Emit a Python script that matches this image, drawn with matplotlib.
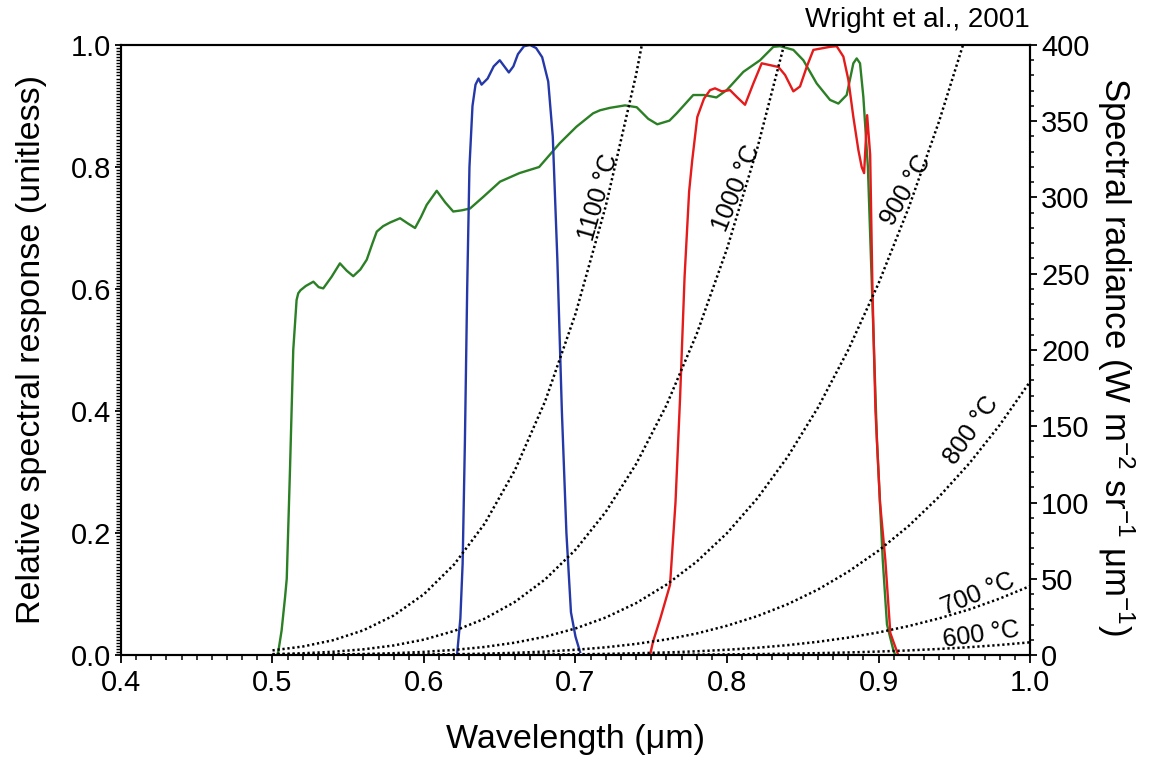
import matplotlib
matplotlib.use("Agg")
import matplotlib.pyplot as plt
from matplotlib.ticker import MultipleLocator, FormatStrFormatter

plt.rcParams['font.family'] = ['Liberation Sans', 'DejaVu Sans']
plt.rcParams['mathtext.fontset'] = 'custom'
plt.rcParams['mathtext.rm'] = 'Liberation Sans'
plt.rcParams['mathtext.it'] = 'Liberation Sans:italic'

# ---------------- sensor relative spectral response ----------------
green_wl = [0.5030, 0.5038, 0.5060, 0.5083, 0.5094, 0.5115, 0.5137, 0.5159, 0.5170,
            0.5185, 0.5220, 0.5270, 0.5305, 0.5335, 0.5390, 0.5445, 0.5490, 0.5533,
            0.5580, 0.5622, 0.5660, 0.5688, 0.5730, 0.5776, 0.5842, 0.5890, 0.5941,
            0.5980, 0.6018, 0.6084, 0.6140, 0.6193, 0.6250, 0.6304, 0.6391, 0.6502,
            0.6630, 0.6760, 0.6830, 0.6896, 0.7006, 0.7116, 0.7162, 0.7228, 0.7327,
            0.7404, 0.7480, 0.7540, 0.7620, 0.7668, 0.7777, 0.7850, 0.7930, 0.7998,
            0.8108, 0.8218, 0.8306, 0.8350, 0.8438, 0.8504, 0.8592, 0.8680, 0.8735,
            0.8790, 0.8834, 0.8856, 0.8878, 0.8900, 0.8930, 0.8957, 0.8990, 0.9028,
            0.9056, 0.9098, 0.9110]
green_resp = [0.000, 0.005, 0.040, 0.095, 0.125, 0.300, 0.500, 0.582, 0.593,
              0.598, 0.605, 0.612, 0.603, 0.601, 0.620, 0.642, 0.630, 0.621,
              0.632, 0.648, 0.675, 0.694, 0.703, 0.709, 0.716, 0.708, 0.700,
              0.718, 0.738, 0.761, 0.742, 0.727, 0.729, 0.732, 0.751, 0.776,
              0.790, 0.800, 0.820, 0.839, 0.866, 0.888, 0.893, 0.897, 0.901,
              0.898, 0.879, 0.870, 0.876, 0.888, 0.918, 0.918, 0.914, 0.926,
              0.956, 0.975, 0.997, 0.998, 0.992, 0.975, 0.937, 0.910, 0.904,
              0.918, 0.970, 0.978, 0.970, 0.915, 0.800, 0.600, 0.350, 0.156,
              0.050, 0.008, 0.000]

blue_wl = [0.6218, 0.6240, 0.6255, 0.6270, 0.6285, 0.6300, 0.6320, 0.6340, 0.6360,
           0.6380, 0.6420, 0.6460, 0.6500, 0.6530, 0.6560, 0.6590, 0.6620, 0.6660,
           0.6700, 0.6740, 0.6780, 0.6820, 0.6850, 0.6880, 0.6910, 0.6940, 0.6970,
           0.7000, 0.7030]
blue_resp = [0.000, 0.060, 0.150, 0.350, 0.600, 0.800, 0.900, 0.935, 0.945,
             0.935, 0.945, 0.965, 0.975, 0.965, 0.955, 0.965, 0.985, 0.998,
             1.000, 0.995, 0.980, 0.940, 0.850, 0.650, 0.400, 0.200, 0.070,
             0.030, 0.005]

red_wl = [0.7492, 0.7512, 0.7560, 0.7624, 0.7660, 0.7690, 0.7720, 0.7750, 0.7770,
          0.7804, 0.7848, 0.7888, 0.7921, 0.7965, 0.8020, 0.8064, 0.8119, 0.8174,
          0.8229, 0.8284, 0.8339, 0.8383, 0.8438, 0.8482, 0.8526, 0.8570, 0.8614,
          0.8680, 0.8724, 0.8768, 0.8801, 0.8834, 0.8867, 0.8889, 0.8905, 0.8925,
          0.8945, 0.8960, 0.8980, 0.9010, 0.9045, 0.9078, 0.9130]
red_resp = [0.000, 0.022, 0.060, 0.115, 0.250, 0.420, 0.620, 0.760, 0.810,
            0.882, 0.912, 0.926, 0.929, 0.924, 0.926, 0.915, 0.902, 0.937,
            0.970, 0.967, 0.964, 0.951, 0.924, 0.932, 0.964, 0.992, 0.994,
            0.997, 0.998, 0.981, 0.943, 0.882, 0.828, 0.800, 0.790, 0.885,
            0.820, 0.600, 0.400, 0.250, 0.156, 0.036, 0.000]

# ---------------- blackbody spectral radiance (W m-2 sr-1 um-1) ----------------
bb_wl = [0.50, 0.52, 0.54, 0.56, 0.58, 0.60, 0.62, 0.64, 0.66, 0.68, 0.70, 0.72, 0.74,
         0.76, 0.78, 0.80, 0.82, 0.84, 0.86, 0.88, 0.90, 0.92, 0.94, 0.96, 0.98, 1.00]
bb_1100 = [3.02, 5.56, 9.71, 16.2, 25.9, 39.9, 59.5, 86.1, 121.2, 166.5, 223.7, 294.5,
           380.6, 483.5]
bb_1000 = [0.582, 1.14, 2.11, 3.72, 6.26, 10.1, 15.8, 23.8, 34.8, 49.6, 69.0, 93.9,
           125.2, 163.7, 210.5, 266.4, 332.3, 409.0]
bb_900 = [0.0848, 0.179, 0.355, 0.666, 1.19, 2.03, 3.34, 5.28, 8.09, 12.0, 17.4, 24.6,
          34.0, 46.1, 61.2, 79.9, 102.7, 129.9, 162.2, 200.0, 243.6, 293.5, 350.0, 413.4]
bb_800 = [0.0086, 0.0199, 0.0428, 0.0866, 0.166, 0.303, 0.528, 0.886, 1.43, 2.24, 3.41,
          5.04, 7.27, 10.2, 14.1, 19.2, 25.5, 33.3, 42.9, 54.6, 68.4, 84.7, 103.8, 125.7,
          150.8, 179.2]
bb_700 = [0.00055, 0.0014, 0.0033, 0.0074, 0.0154, 0.0305, 0.0572, 0.103, 0.178, 0.296,
          0.476, 0.744, 1.13, 1.67, 2.42, 3.42, 4.75, 6.47, 8.65, 11.4, 14.8, 19.0, 24.0,
          29.9, 37.0, 45.2]
bb_600 = [0.00002, 0.00005, 0.00015, 0.00036, 0.00083, 0.0018, 0.0037, 0.0073, 0.0137,
          0.0245, 0.0424, 0.0708, 0.115, 0.180, 0.276, 0.412, 0.602, 0.861, 1.21, 1.66,
          2.26, 3.01, 3.96, 5.13, 6.57, 8.31]

bb_curves = [bb_600, bb_700, bb_800, bb_900, bb_1000, bb_1100]
bb_labels = ["600 °C", "700 °C", "800 °C", "900 °C", "1000 °C", "1100 °C"]
# label anchor (wavelength, radiance) and text angle for each curve
bb_label_pos = [(0.9675, 13.0), (0.9655, 40.0), (0.9615, 147.0),
                (0.9180, 305.0), (0.8065, 306.0), (0.7150, 300.0)]
bb_label_rot = [8, 22, 55, 60, 68, 74]

# ---------------- figure ----------------
fig = plt.figure(figsize=(11.53, 7.65), dpi=100)
ax = fig.add_axes([121 / 1153, 1 - 655 / 765, 909 / 1153, 610 / 765])
ax2 = ax.twinx()

ax.plot(green_wl, green_resp, color='#2b7f24', lw=1.7, zorder=3)
ax.plot(blue_wl, blue_resp, color='#2438a8', lw=1.7, zorder=3)
ax.plot(red_wl, red_resp, color='#e51a1a', lw=1.7, zorder=3)

for vals in bb_curves:
    ax2.plot(bb_wl[:len(vals)], vals, color='black', lw=1.8,
             linestyle=(0, (0.9, 1.1)), zorder=2)

for txt, (x, y), rot in zip(bb_labels, bb_label_pos, bb_label_rot):
    ax2.text(x, y, txt, fontsize=18, rotation=rot, rotation_mode='anchor',
             ha='center', va='center', zorder=4)

ax.set_xlim(0.4, 1.0)
ax.set_ylim(0.0, 1.0)
ax2.set_ylim(0, 400)

ax.xaxis.set_major_locator(MultipleLocator(0.1))
ax.xaxis.set_minor_locator(MultipleLocator(0.01))
ax.xaxis.set_major_formatter(FormatStrFormatter('%.1f'))
ax.yaxis.set_major_locator(MultipleLocator(0.2))
ax.yaxis.set_minor_locator(MultipleLocator(0.005))
ax.yaxis.set_major_formatter(FormatStrFormatter('%.1f'))
ax2.yaxis.set_major_locator(MultipleLocator(50))
ax2.yaxis.set_minor_locator(MultipleLocator(10))

for a in (ax, ax2):
    for s in a.spines.values():
        s.set_linewidth(1.5)

ax.tick_params(axis='x', which='major', direction='out', length=6, width=1.3,
               labelsize=21, pad=4, top=False)
ax.tick_params(axis='x', which='minor', direction='out', length=3.5, width=1.1, top=False)
ax.tick_params(axis='y', which='major', direction='out', length=4, width=1.3,
               labelsize=21, pad=3)
ax.tick_params(axis='y', which='minor', direction='out', length=3.5, width=1.0)
ax2.tick_params(axis='y', which='major', direction='out', length=5, width=1.3,
                labelsize=21, pad=3)
ax2.tick_params(axis='y', which='minor', direction='out', length=3, width=1.1)

ax.set_xlabel("Wavelength (μm)", fontsize=24.5)
ax.xaxis.set_label_coords(0.5, -0.113)
ax.set_ylabel("Relative spectral response (unitless)", fontsize=24.5)
ax.yaxis.set_label_coords(-0.081, 0.5)
ax2.set_ylabel("Spectral radiance (W m$^{-2}$ sr$^{-1}$ μm$^{-1}$)", fontsize=25,
               rotation=-90, va='center')
ax2.yaxis.set_label_coords(1.094, 0.49)

fig.text(1030 / 1153, 1 - 20 / 765, "Wright et al., 2001", fontsize=20,
         ha='right', va='center')

fig.savefig("out.png", dpi=100)
